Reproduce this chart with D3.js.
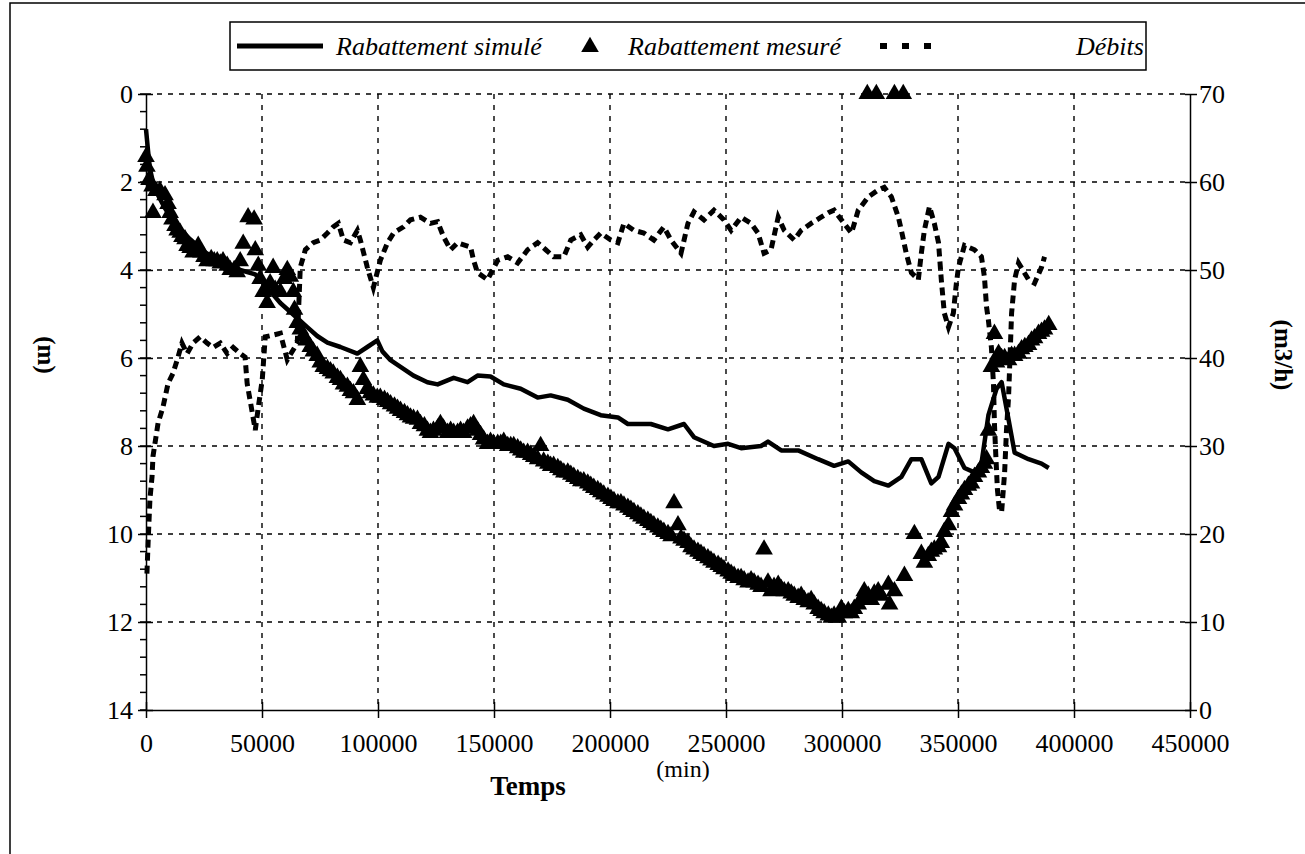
<!DOCTYPE html>
<meta charset="utf-8">
<title>Rabattement et débits</title>
<body>
<script src="https://cdn.jsdelivr.net/npm/d3@7"></script>
<style>
html, body {
    margin: 0;
    background: #fff;
}
svg {
    display: block;
    font-family: "Liberation Serif", "Times New Roman", serif;
}
.grid line {
    stroke: #000;
    stroke-width: 1.4;
    stroke-dasharray: 5,6;
}
.axis path, .axis line {
    stroke: #000;
    stroke-width: 1.5;
}
.axis text {
    font-family: "Liberation Serif", "Times New Roman", serif;
    font-size: 26px;
    fill: #000;
}
</style>
<script>
var width = 1305,
    height = 854,
    margin = { left: 146, right: 1190, top: 94, bottom: 710 };

// temps (min), rabattement (m)
var simule = [
    [0, 0.8], [900, 1.3], [1700, 1.7], [3000, 2.0], [5200, 2.3], [8200, 2.6],
    [12500, 2.95], [19000, 3.3], [25500, 3.6], [34100, 3.85], [40600, 4.0],
    [47100, 4.1], [51400, 4.35], [57900, 4.75], [64300, 5.05], [69500, 5.3],
    [73800, 5.5], [78200, 5.65], [83800, 5.75], [91100, 5.9], [95400, 5.75],
    [99700, 5.6], [101900, 5.85], [105400, 6.05], [109700, 6.2], [115300, 6.4],
    [121300, 6.55], [125700, 6.6], [132600, 6.45], [138600, 6.55], [142900, 6.4],
    [148500, 6.42], [154200, 6.6], [161500, 6.7], [168800, 6.9], [174400, 6.85],
    [181800, 6.95], [188700, 7.15], [196000, 7.3], [203400, 7.35], [207700, 7.5],
    [217600, 7.5], [225000, 7.62], [231900, 7.5], [236200, 7.8], [244800, 8.0],
    [250900, 7.95], [256500, 8.05], [265100, 8.0], [268100, 7.9], [273800, 8.1],
    [281100, 8.1], [289700, 8.3], [296600, 8.45], [302700, 8.35], [308300, 8.6],
    [313900, 8.8], [320000, 8.9], [325600, 8.7], [329900, 8.3], [334200, 8.3],
    [338500, 8.85], [341600, 8.7], [345900, 7.95], [348500, 8.05], [352800, 8.5],
    [357100, 8.6], [360100, 8.4], [363100, 7.3], [366600, 6.7], [368800, 6.55],
    [371800, 7.4], [374400, 8.15], [380400, 8.3], [386000, 8.4], [389100, 8.5]
];

// temps (min), rabattement mesuré (m)
var mesure = [
    [0, 1.43], [400, 1.65], [1300, 1.95], [2600, 2.1], [3000, 2.7], [4300, 2.2],
    [6000, 2.2], [8200, 2.3], [9500, 2.5], [10400, 2.7], [11200, 2.85], [12500, 3.0],
    [13400, 3.1], [14700, 3.15], [15500, 3.25], [16800, 3.3], [17700, 3.45], [19000, 3.5],
    [20300, 3.6], [21600, 3.55], [22500, 3.45], [23700, 3.6], [25000, 3.7], [26300, 3.8],
    [28100, 3.75], [29400, 3.8], [30700, 3.8], [32000, 3.85], [33200, 3.8], [35000, 3.9],
    [36300, 4.0], [38000, 4.0], [39300, 4.05], [40600, 3.8], [41900, 3.4], [44000, 2.8],
    [46600, 2.85], [47100, 3.55], [48400, 3.9], [49200, 4.2], [50500, 4.5], [52200, 4.75],
    [53500, 4.3], [54800, 3.95], [55700, 4.45], [57900, 4.5], [59600, 4.2], [60900, 4.0],
    [62200, 4.15], [63500, 4.5], [64000, 4.9], [65200, 5.2], [66500, 5.35], [67800, 5.5],
    [69100, 5.6], [70800, 5.75], [72100, 5.85], [73800, 5.95], [75100, 6.1], [76400, 6.2],
    [78200, 6.25], [79500, 6.3], [80700, 6.35], [82500, 6.45], [83800, 6.5], [85100, 6.6],
    [86800, 6.65], [88100, 6.75], [89400, 6.8], [91100, 6.95], [92400, 6.2], [93700, 6.5],
    [95400, 6.7], [96700, 6.8], [98000, 6.85], [99700, 6.9], [101000, 6.9], [102800, 6.95],
    [104100, 7.0], [105400, 7.05], [107100, 7.1], [108400, 7.15], [109700, 7.2], [111400, 7.25],
    [112700, 7.3], [114000, 7.35], [115300, 7.38], [117000, 7.4], [118300, 7.5], [120000, 7.55],
    [121300, 7.65], [122600, 7.7], [123900, 7.65], [125700, 7.6], [126900, 7.5], [128200, 7.6],
    [130000, 7.7], [131300, 7.65], [132600, 7.7], [134300, 7.7], [135600, 7.65], [136900, 7.7],
    [138600, 7.6], [139900, 7.55], [141200, 7.5], [142900, 7.65], [144200, 7.75], [145500, 7.85],
    [147200, 7.95], [148500, 7.9], [149800, 7.95], [151600, 7.95], [152900, 7.95], [154200, 7.9],
    [155900, 8.0], [157200, 8.0], [158500, 8.0], [160200, 8.05], [161500, 8.1], [162800, 8.15],
    [164500, 8.15], [165800, 8.2], [167100, 8.25], [168800, 8.3], [170100, 8.0], [171400, 8.35],
    [173200, 8.4], [174400, 8.45], [175700, 8.45], [177500, 8.5], [178800, 8.55], [180100, 8.6],
    [181800, 8.6], [183100, 8.65], [184400, 8.7], [186100, 8.75], [187400, 8.8], [188700, 8.8],
    [190400, 8.85], [191700, 8.9], [193000, 8.95], [194700, 9.0], [196000, 9.05], [197300, 9.1],
    [199100, 9.15], [200400, 9.2], [201700, 9.25], [203400, 9.3], [204700, 9.3], [206000, 9.35],
    [207700, 9.4], [209000, 9.45], [210300, 9.5], [212000, 9.55], [213300, 9.6], [214600, 9.65],
    [216300, 9.7], [217600, 9.75], [218900, 9.8], [220600, 9.85], [221900, 9.9], [223200, 9.95],
    [225000, 10.0], [226300, 10.05], [227600, 9.3], [229300, 9.8], [230600, 10.1], [231900, 10.15],
    [233600, 10.2], [234900, 10.3], [236200, 10.35], [237900, 10.4], [239200, 10.45], [240500, 10.5],
    [242200, 10.55], [243500, 10.6], [244800, 10.65], [246600, 10.7], [247900, 10.75], [249100, 10.8],
    [250900, 10.85], [252200, 10.9], [253500, 10.95], [255200, 11.0], [256500, 11.0], [257800, 11.05],
    [259500, 11.1], [260800, 11.05], [262100, 11.1], [263800, 11.15], [265100, 11.2], [266400, 10.35],
    [268100, 11.1], [269400, 11.3], [270700, 11.2], [272500, 11.15], [273800, 11.25], [275100, 11.3],
    [276800, 11.3], [278100, 11.35], [279400, 11.4], [281100, 11.45], [282400, 11.4], [283700, 11.5],
    [285400, 11.55], [286700, 11.5], [288000, 11.6], [289700, 11.7], [291000, 11.75], [292300, 11.8],
    [294100, 11.85], [295400, 11.9], [296600, 11.85], [298400, 11.9], [299700, 11.7], [301000, 11.8],
    [302700, 11.75], [304000, 11.8], [305300, 11.7], [307000, 11.6], [308300, 11.5], [309600, 11.3],
    [311300, 11.4], [312600, 11.5], [313900, 11.35], [315600, 11.3], [316900, 11.4], [320000, 11.15],
    [320500, 11.6], [322600, 11.3], [326900, 10.95], [331200, 10.0], [334200, 10.45], [335500, 10.65],
    [337200, 10.5], [338500, 10.4], [339800, 10.35], [341600, 10.3], [342800, 10.2], [344100, 9.95],
    [345900, 9.8], [347200, 9.5], [348500, 9.35], [350200, 9.2], [351500, 9.1], [352800, 9.0],
    [354500, 8.9], [355800, 8.85], [357100, 8.7], [358800, 8.6], [360100, 8.5], [361400, 8.4],
    [362300, 8.3], [363100, 7.65], [364400, 6.2], [365700, 5.45], [366600, 6.1], [367500, 5.9],
    [368800, 6.0], [370100, 6.0], [371800, 6.05], [373100, 5.95], [374400, 5.95], [376100, 5.9],
    [377400, 5.8], [378800, 5.75], [380400, 5.7], [381700, 5.6], [383000, 5.55], [384700, 5.45],
    [386000, 5.4], [387300, 5.35], [389100, 5.25],
    [310900, 0], [314800, 0], [322600, 0], [326400, 0]
];

// temps (min), débit (m3/h)
var debits = [
    [400, 15.5], [900, 19], [1300, 21.5], [1700, 24], [2600, 26.5], [3000, 28.8],
    [5200, 32.6], [7300, 34.4], [9500, 37.1], [11700, 38.3], [13800, 40.1], [15500, 41.7],
    [17700, 40.5], [20300, 41.7], [23300, 42.4], [26300, 41.7], [28900, 41.2], [32000, 41.7],
    [35000, 40.5], [37600, 41.2], [40600, 40.5], [42700, 40.1], [43600, 37.1], [45800, 33.8],
    [47100, 31.8], [48400, 34.4], [50100, 37.5], [51400, 42.4], [57900, 42.8], [60900, 39.8],
    [65200, 41.7], [66500, 50.3], [68700, 52.3], [72100, 53.1], [75100, 53.4], [78200, 54.2],
    [80700, 54.9], [82900, 55.3], [85100, 53.4], [88100, 53.1], [91100, 54.5], [92400, 53.4],
    [95400, 50.3], [98000, 48.0], [101000, 51.1], [104100, 53.1], [106700, 54.2], [111000, 54.9],
    [114000, 55.7], [118300, 56.0], [122600, 55.3], [125700, 55.5], [128200, 53.8], [131300, 52.3],
    [134300, 53.1], [139900, 52.6], [141200, 51.1], [142900, 49.7], [147200, 48.9], [151600, 51.1],
    [155900, 51.5], [160200, 50.8], [164500, 52.3], [168800, 53.1], [172300, 52.3], [175700, 51.5],
    [180100, 51.5], [183100, 53.4], [187400, 54.0], [190400, 52.6], [193000, 53.4], [196000, 54.2],
    [200400, 53.4], [203400, 53.1], [206000, 55.3], [210300, 54.5], [214600, 54.2], [218900, 53.4],
    [223200, 54.9], [226300, 53.4], [230600, 51.9], [233600, 55.3], [236200, 56.6], [240500, 55.7],
    [244800, 56.8], [249100, 55.7], [252200, 54.5], [256500, 56.0], [260800, 55.3], [263800, 54.2],
    [266400, 51.9], [269400, 52.3], [272500, 56.0], [275100, 54.5], [279400, 53.4], [282400, 54.5],
    [286700, 55.3], [291000, 56.0], [294100, 56.5], [296600, 56.8], [299700, 55.7], [304100, 54.2],
    [307000, 56.8], [311300, 58.3], [315600, 59.1], [318200, 59.4], [321300, 58.3], [324300, 56.0],
    [325600, 54.5], [327700, 51.9], [329900, 49.7], [332900, 48.9], [334200, 51.9], [335500, 54.5],
    [337700, 57.2], [339800, 55.3], [341600, 53.1], [342800, 48.9], [344100, 45.1], [345900, 43.5],
    [348000, 45.1], [349300, 48.5], [350200, 50.3], [352800, 52.8], [357100, 52.3], [360100, 51.5],
    [361400, 49.2], [362300, 45.8], [363100, 44.3], [364400, 41.2], [365300, 37.0], [365700, 32.6],
    [366200, 29.5], [367000, 25.0], [367900, 22.7], [368800, 22.5], [370100, 27.0], [370900, 31.8],
    [371800, 35.6], [373100, 45.1], [374400, 48.9], [376100, 50.8], [380400, 48.9], [383000, 48.5],
    [386000, 50.3], [387300, 51.5]
];

var timeTicks = d3.range(0, 450001, 50000),
    drawdownTicks = d3.range(0, 15, 2),
    flowTicks = d3.range(0, 71, 10),
    minorTicks = d3.range(0, 14.001, 0.4);

var x = d3.scaleLinear().domain([0, 450000]).range([margin.left, margin.right]),
    y = d3.scaleLinear().domain([0, 14]).range([margin.top, margin.bottom]),
    y2 = d3.scaleLinear().domain([0, 70]).range([margin.bottom, margin.top]);

var svg = d3.select("body").append("svg")
    .attr("width", width)
    .attr("height", height);

// cadre
svg.append("rect")
    .attr("x", 10).attr("y", 3)
    .attr("width", width + 20).attr("height", height + 20)
    .attr("fill", "none").attr("stroke", "#000").attr("stroke-width", 1.5);

// grille
var grid = svg.append("g").attr("class", "grid");
grid.selectAll(".h")
    .data(drawdownTicks.slice(0, -1))
    .enter().append("line")
    .attr("x1", margin.left).attr("x2", margin.right)
    .attr("y1", y).attr("y2", y);
grid.selectAll(".v")
    .data(timeTicks.slice(1, -1))
    .enter().append("line")
    .attr("x1", x).attr("x2", x)
    .attr("y1", margin.top).attr("y2", margin.bottom);

// axes
var gx = svg.append("g").attr("class", "axis")
    .attr("transform", "translate(0," + margin.bottom + ")")
    .call(d3.axisBottom(x).tickValues(timeTicks).tickFormat(d3.format("d")).tickSizeOuter(0))
    .attr("font-family", null);
gx.selectAll(".tick line").attr("y1", -8).attr("y2", 8);
gx.selectAll(".tick text").attr("y", 24);

var gy = svg.append("g").attr("class", "axis")
    .attr("transform", "translate(" + margin.left + ",0)")
    .call(d3.axisLeft(y).tickValues(drawdownTicks).tickSizeOuter(0))
    .attr("font-family", null);
gy.selectAll(".tick line").attr("x1", -8).attr("x2", 7);
gy.selectAll(".tick text").attr("x", -13);
gy.selectAll(".minor")
    .data(minorTicks)
    .enter().append("line")
    .attr("x1", -6).attr("x2", 0)
    .attr("y1", y).attr("y2", y)
    .attr("stroke", "#000").attr("stroke-width", 1.3);

var gy2 = svg.append("g").attr("class", "axis")
    .attr("transform", "translate(" + margin.right + ",0)")
    .call(d3.axisRight(y2).tickValues(flowTicks).tickSizeOuter(0))
    .attr("font-family", null);
gy2.selectAll(".tick line").attr("x1", -5).attr("x2", 7);
gy2.selectAll(".tick text").attr("x", 9);

// titres d'axes
svg.append("text")
    .attr("transform", "translate(38,355) rotate(90)")
    .attr("text-anchor", "middle")
    .style("font-size", "25px").style("font-weight", "bold")
    .text("(m)");
svg.append("text")
    .attr("transform", "translate(1275,355) rotate(90)")
    .attr("text-anchor", "middle")
    .style("font-size", "25px").style("font-weight", "bold")
    .text("(m3/h)");
svg.append("text")
    .attr("x", 683).attr("y", 777)
    .attr("text-anchor", "middle")
    .style("font-size", "24px")
    .text("(min)");
svg.append("text")
    .attr("x", 528).attr("y", 795)
    .attr("text-anchor", "middle")
    .style("font-size", "27px").style("font-weight", "bold")
    .text("Temps");

// séries
var simLine = d3.line()
    .x(function(d) { return x(d[0]); })
    .y(function(d) { return y(d[1]); });

var debLine = d3.line()
    .x(function(d) { return x(d[0]); })
    .y(function(d) { return y2(d[1]); });

svg.append("path")
    .datum(debits)
    .attr("d", debLine)
    .attr("fill", "none")
    .attr("stroke", "#000")
    .attr("stroke-width", 5)
    .attr("stroke-dasharray", "8,5");

svg.append("path")
    .datum(simule)
    .attr("d", simLine)
    .attr("fill", "none")
    .attr("stroke", "#000")
    .attr("stroke-width", 4.5)
    .attr("stroke-linejoin", "round");

var tri = d3.symbol().type(d3.symbolTriangle).size(135);

svg.append("g").selectAll("path")
    .data(mesure)
    .enter().append("path")
    .attr("d", tri)
    .attr("transform", function(d) { return "translate(" + x(d[0]) + "," + y(d[1]) + ")"; })
    .attr("fill", "#000");

// légende
var legend = svg.append("g");
legend.append("rect")
    .attr("x", 230).attr("y", 22)
    .attr("width", 916).attr("height", 48)
    .attr("fill", "#fff").attr("stroke", "#000").attr("stroke-width", 1.5);
legend.append("line")
    .attr("x1", 237).attr("x2", 323).attr("y1", 46).attr("y2", 46)
    .attr("stroke", "#000").attr("stroke-width", 5);
legend.append("path")
    .attr("d", tri)
    .attr("transform", "translate(590,47)");
legend.append("line")
    .attr("x1", 880).attr("x2", 934).attr("y1", 46).attr("y2", 46)
    .attr("stroke", "#000").attr("stroke-width", 6).attr("stroke-dasharray", "7,15");

var legendText = [
    { label: "Rabattement simulé", x: 336 },
    { label: "Rabattement mesuré", x: 628 },
    { label: "Débits", x: 1076 }
];
legend.selectAll("text")
    .data(legendText)
    .enter().append("text")
    .attr("x", function(d) { return d.x; })
    .attr("y", 55)
    .style("font-size", "26px").style("font-style", "italic")
    .text(function(d) { return d.label; });
</script>
